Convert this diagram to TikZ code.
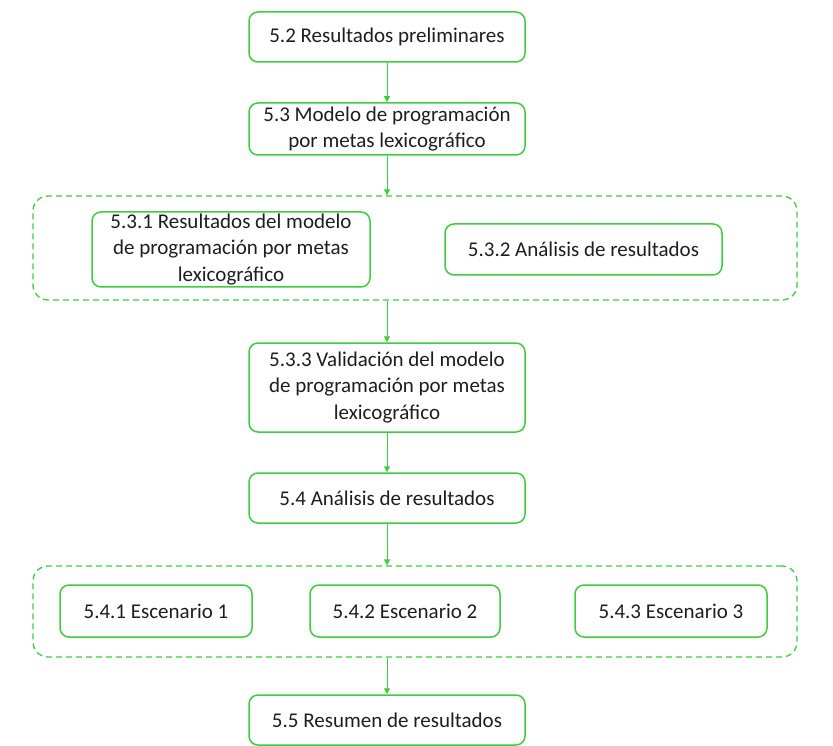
\documentclass[tikz,border=0pt]{standalone}
\usepackage{fontspec}
\setmainfont{Carlito}
\usetikzlibrary{arrows.meta}
\definecolor{grn}{RGB}{62,205,62}
\definecolor{txt}{RGB}{30,30,30}
\begin{document}
\begin{tikzpicture}[x=1pt,y=-1pt,
  box/.style={draw=grn,line width=1.5pt,rounded corners=9pt,align=center,text=txt,
    font=\fontsize{21}{26.5}\selectfont,inner sep=0pt},
  grp/.style={draw=grn,line width=1.3pt,dash pattern=on 6pt off 4pt,rounded corners=15pt,inner sep=0pt},
  arr/.style={draw=grn,line width=1pt,-{Triangle[length=6pt,width=6pt]}}]
\useasboundingbox (0,0) rectangle (833,746);
\node[grp,minimum width=764pt,minimum height=104pt] (g1) at (415,248) {};
\node[grp,minimum width=764pt,minimum height=91pt] (g2) at (415,611.5) {};
\node[box,minimum width=276pt,minimum height=50pt] (a) at (387,37) {5.2 Resultados preliminares};
\node[box,minimum width=276pt,minimum height=52pt] (b) at (387,129) {5.3 Modelo de programación\\por metas lexicográfico};
\node[box,minimum width=278pt,minimum height=75pt] (c) at (231,249.5) {5.3.1 Resultados del modelo\\de programación por metas\\lexicográfico};
\node[box,minimum width=277pt,minimum height=51pt] (d) at (583.5,249.5) {5.3.2 Análisis de resultados};
\node[box,minimum width=276pt,minimum height=89pt] (e) at (387,387.5) {5.3.3 Validación del modelo\\de programación por metas\\lexicográfico};
\node[box,minimum width=276pt,minimum height=50pt] (f) at (387,498) {5.4 Análisis de resultados};
\node[box,minimum width=192pt,minimum height=52pt] (g) at (156,611) {5.4.1 Escenario 1};
\node[box,minimum width=190pt,minimum height=52pt] (h) at (405,611) {5.4.2 Escenario 2};
\node[box,minimum width=192pt,minimum height=52pt] (i) at (671,611) {5.4.3 Escenario 3};
\node[box,minimum width=276pt,minimum height=50pt] (j) at (387,720) {5.5 Resumen de resultados};
\draw[arr] (a) -- (b);
\draw[arr] (b.south) -- (b.south |- g1.north);
\draw[arr] (e.north |- g1.south) -- (e.north);
\draw[arr] (e) -- (f);
\draw[arr] (f.south) -- (f.south |- g2.north);
\draw[arr] (j.north |- g2.south) -- (j.north);
\end{tikzpicture}
\end{document}
